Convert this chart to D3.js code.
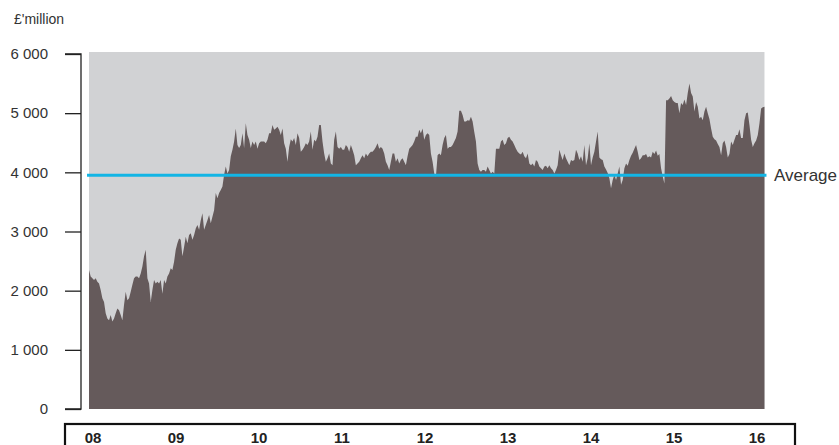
<!DOCTYPE html>
<html><head><meta charset="utf-8">
<script src="https://cdn.jsdelivr.net/npm/d3@7"></script>
<style>
html,body{margin:0;padding:0;background:#fff;}
svg{display:block;font-family:"Liberation Sans",Arial,sans-serif;}
</style></head>
<body>
<svg id="c" width="839" height="445"></svg>
<script>
// ---- data ----
const unitLabel = "£'million";
const yTicks = [0, 1000, 2000, 3000, 4000, 5000, 6000];
const yearLabels = ["08","09","10","11","12","13","14","15","16"];
const yearValues = [2008,2009,2010,2011,2012,2013,2014,2015,2016];
const seriesStart = 2007.952;
const seriesEnd = 2016.09;
const averageValue = 3950;
const averageLabel = "Average";
const values2008_2010 = [2350,2240,2210,2180,2210,2150,2120,2010,1870,1810,
1620,1530,1500,1590,1480,1530,1620,1700,1670,1590,
1500,1760,1980,1840,1870,1980,2100,2210,2240,2240,
2210,2290,2410,2580,2690,2210,2120,1810,2010,2180,
2120,2150,2120,2180,1950,2180,2120,2240,2290,2380,
2350,2490,2690,2800,2880,2860,2580,2740,2910,2800,
2940,2970,2860,2940,3050,3110,3030,3190,3310,3030,
3110,3190,3280,3140,3250,3360,3650,3560,3650,3700,
3760,3960,4100,3980,4040,4270,4380,4520,4740,4460,
4410,4460,4660,4410,4830,4630,4550,4410,4520,4460];
const values2010_2012 = [4520,4400,4490,4520,4520,4520,4490,4550,4660,4660,
4800,4720,4740,4770,4720,4630,4740,4490,4400,4180,
4430,4560,4520,4580,4460,4660,4580,4350,4380,4430,
4490,4460,4520,4690,4380,4550,4520,4600,4800,4800,
4520,4320,4180,4240,4320,4150,4120,4550,4690,4430,
4400,4430,4380,4380,4460,4430,4350,4460,4380,4290,
4120,4150,4180,4240,4290,4240,4320,4270,4320,4350,
4350,4380,4430,4490,4400,4430,4400,4320,4180,4120,
4040,4180,4320,4320,4180,4240,4150,4210,4240,4180,
4120,4270,4400,4430,4460,4520,4600,4600,4720,4660,4740];
const values2012_2014 = [4550,4630,4660,4630,4320,4180,3980,3930,4290,4320,
4290,4460,4580,4630,4400,4430,4430,4460,4520,4580,
4690,5040,5040,4970,4860,4860,4880,4870,4940,4860,
4680,4520,4150,4040,4010,4040,4040,4010,4100,4040,
3980,4010,3980,4400,4400,4400,4520,4550,4460,4490,
4580,4600,4550,4520,4460,4400,4350,4320,4300,4350,
4270,4240,4320,4150,4120,4150,4100,4210,4180,4100,
4070,4040,4100,4110,4070,4120,4070,4040,3980,4040,
4120,4380,4290,4210,4320,4240,4180,4120,4210,4190,
4210,4380,4320,4210,4270,4180,4460,4120,4240,4490,4120];
const values2014_2016 = [4250,4350,4520,4690,4250,4220,4210,4100,4050,3990,
3900,3730,3870,3960,3870,3980,4100,3790,3870,4070,
4150,4110,4210,4280,4330,4400,4460,4350,4210,4240,
4290,4290,4310,4250,4270,4250,4350,4310,4370,4280,
4310,4070,3930,3810,5220,5220,5250,5290,5220,5190,
5170,5170,5000,5170,5140,5230,5140,5340,5500,5340,
5280,5030,5190,5110,4910,4940,4880,5030,5110,5000,
4900,4740,4600,4560,4540,4480,4430,4290,4490,4540,
4430,4250,4310,4520,4460,4550,4630,4630,4730,4580,
4580,4880,5000,5010,4800,4550,4430,4490,4540,4630,
4830,5080,5100,5110];
const series = [].concat(values2008_2010, values2010_2012, values2012_2014, values2014_2016);

// ---- chart ----
const svg = d3.select("#c");
const plotTop = 52;
const x = d3.scaleLinear().domain([2008, 2016]).range([93, 757]);
const y = d3.scaleLinear().domain([0, 6000]).range([409, 54]);
const n = series.length;
const tOf = i => seriesStart + (seriesEnd - seriesStart) * i / (n - 1);

// background grey
svg.append("rect").attr("x", x(seriesStart)).attr("y", plotTop)
  .attr("width", x(seriesEnd) - x(seriesStart)).attr("height", y(0) - plotTop)
  .attr("fill", "#d1d2d4");

// area
const area = d3.area().x((d, i) => x(tOf(i))).y0(y(0)).y1(d => y(d)).curve(d3.curveLinear);
svg.append("path").datum(series).attr("d", area).attr("fill", "#655a5b");

// average line
svg.append("line").attr("x1", x(seriesStart) - 2).attr("x2", x(seriesEnd) + 2)
  .attr("y1", y(averageValue)).attr("y2", y(averageValue))
  .attr("stroke", "#12b5e5").attr("stroke-width", 3);
svg.append("text").attr("x", 774).attr("y", y(averageValue)).attr("dy", "0.36em")
  .attr("font-size", 17).attr("fill", "#333").text(averageLabel);

// y axis
const yAxis = d3.axisLeft(y).tickValues(yTicks).tickSize(16).tickPadding(17)
  .tickFormat(d => d3.format(",")(d).replace(",", " "));
const gy = svg.append("g").attr("transform", "translate(81,0)").call(yAxis);
gy.select(".domain").attr("stroke", "#222").attr("stroke-width", 1.3)
  .attr("d", `M-16,${y(6000)}H0V${y(0)}H-16`);
gy.selectAll(".tick line").attr("stroke", "#222").attr("stroke-width", 1.3);
gy.selectAll(".tick text").attr("font-size", 15).attr("fill", "#333")
  .attr("font-family", "'Liberation Sans',Arial,sans-serif");

svg.append("text").attr("x", 14).attr("y", 24).attr("font-size", 14).attr("fill", "#333").text(unitLabel);

// bottom box axis
svg.append("rect").attr("x", 65).attr("y", 424).attr("width", 730).attr("height", 40)
  .attr("fill", "none").attr("stroke", "#111").attr("stroke-width", 2.2);
svg.append("g").selectAll("text").data(yearValues).join("text")
  .attr("x", d => x(d)).attr("y", 443).attr("text-anchor", "middle")
  .attr("font-size", 15).attr("font-weight", "bold").attr("fill", "#222")
  .text((d, i) => yearLabels[i]);
</script>
</body></html>
